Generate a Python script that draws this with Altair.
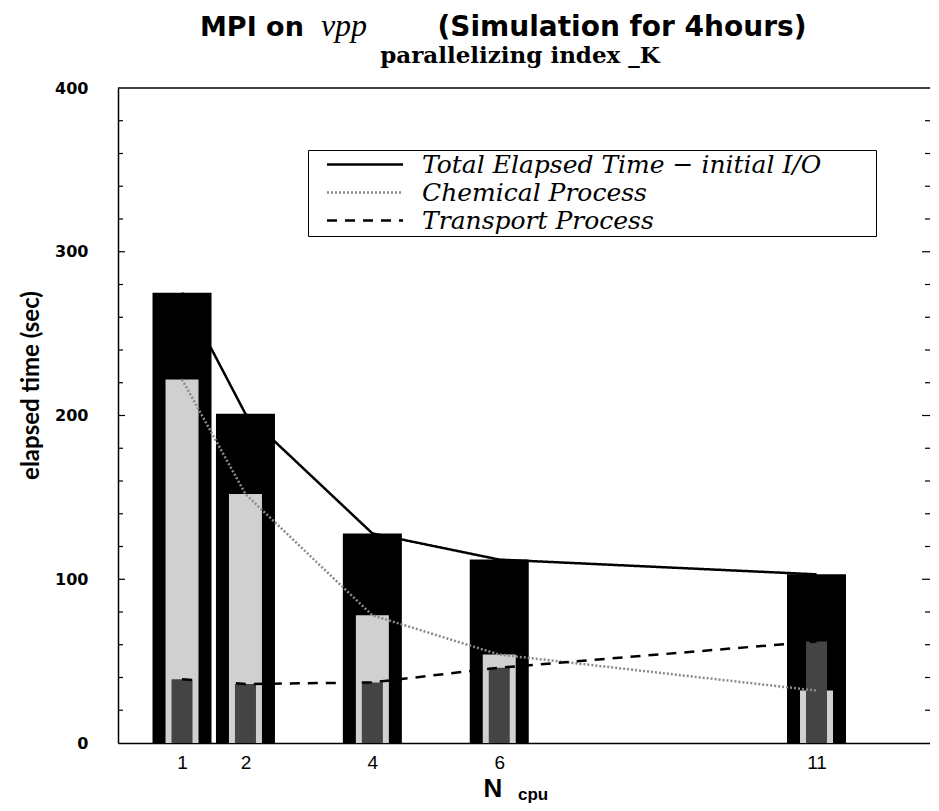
import altair as alt
import pandas as pd

# ---- data ----
ncpu = [1, 2, 4, 6, 11]
total = [275, 201, 128, 112, 103]
chemical = [222, 152, 78, 54, 32]
transport = [39, 36, 37, 46, 62]

series_names = ["Total Elapsed Time \u2212 initial I/O", "Chemical Process", "Transport Process"]
x_ticks = [1, 2, 4, 6, 11]
y_ticks = [0, 100, 200, 300, 400]
major_ticks = [100, 200, 300]
minor_ticks = [20, 40, 60, 80, 120, 140, 160, 180, 220, 240, 260, 280, 320, 340, 360, 380]

title_a = "MPI on"
title_b = "vpp"
title_c = "(Simulation for 4hours)"
subtitle = "parallelizing index _K"
xtitle_main = "N"
xtitle_sub = "cpu"
ytitle = "elapsed time (sec)"

# ---- tables ----
W, H = 812, 655
bars_df = pd.DataFrame({"ncpu": ncpu, "total": total, "chemical": chemical, "transport": transport})
rows = []
for name, vals in zip(series_names, [total, chemical, transport]):
    for n, v in zip(ncpu, vals):
        rows.append({"ncpu": n, "series": name, "value": v})
lines_df = pd.DataFrame(rows)
major_df = pd.DataFrame({"v": major_ticks})
minor_df = pd.DataFrame({"v": minor_ticks})
one_df = pd.DataFrame({"a": [0]})

xs = alt.Scale(domain=[0.07, 12.71], nice=False, zero=False)
ys = alt.Scale(domain=[0, 400], nice=False)

x_axis = alt.Axis(values=x_ticks, ticks=False, grid=False, domainColor="black", domainWidth=1.5,
                  labelFont="Liberation Sans", labelFontSize=19, labelColor="black",
                  labelPadding=10, labelFlush=False, title=None)
y_axis = alt.Axis(values=y_ticks, ticks=False, grid=False, domainColor="black", domainWidth=1.5,
                  labelFont="DejaVu Sans", labelFontWeight="bold", labelFontSize=16,
                  labelColor="black", labelPadding=30, labelFlush=False,
                  title=ytitle, titleFont="Lato",
                  titleFontSize=24, titleFontWeight="bold", titleColor="black",
                  titleX=-80, titleY=297, titleAngle=270, titleAlign="center",
                  titleBaseline="alphabetic")

X = alt.X("ncpu:Q", scale=xs, axis=x_axis)

bar_total = alt.Chart(bars_df).mark_bar(size=59, color="black", orient="vertical").encode(
    x=X, y=alt.Y("total:Q", scale=ys, axis=y_axis))
bar_chem = alt.Chart(bars_df).mark_bar(size=33, color="#d0d0d0", orient="vertical").encode(
    x=X, y=alt.Y("chemical:Q", scale=ys, axis=y_axis))
bar_trans = alt.Chart(bars_df).mark_bar(size=21, color="#444444", orient="vertical").encode(
    x=X, y=alt.Y("transport:Q", scale=ys, axis=y_axis))

# invisible legend title placed to the right only widens the legend box
leg = alt.Legend(title="MMM")
lines = alt.Chart(lines_df).mark_line(interpolate="linear", strokeWidth=2.5).encode(
    x=X,
    y=alt.Y("value:Q", scale=ys, axis=y_axis),
    color=alt.Color("series:N", scale=alt.Scale(domain=series_names, range=["black", "#8a8a8a", "black"]), legend=leg),
    strokeDash=alt.StrokeDash("series:N", scale=alt.Scale(domain=series_names, range=[[1, 0], [2, 2], [10, 8]]), legend=leg),
)

def tick_layer(df, x0, x1):
    return alt.Chart(df).mark_rule(color="black", strokeWidth=1.2).encode(
        y=alt.Y("v:Q", scale=ys, axis=y_axis), x=alt.value(x0), x2=alt.value(x1))

ticks = [tick_layer(major_df, 0, 7), tick_layer(minor_df, 0, 5),
         tick_layer(major_df, W - 8, W), tick_layer(minor_df, W - 5, W)]

top_border = alt.Chart(one_df).mark_rule(color="black", strokeWidth=1.5).encode(
    x=alt.value(0), x2=alt.value(W), y=alt.value(0))

def text_layer(txt, x, y, font, size, weight="normal", style="normal", align="left"):
    return alt.Chart(pd.DataFrame({"t": [txt]})).mark_text(
        font=font, fontSize=size, fontWeight=weight, fontStyle=style, align=align,
        baseline="alphabetic", color="black").encode(text="t:N", x=alt.value(x), y=alt.value(y))

texts = [
    text_layer(title_a, 82, -52, "DejaVu Sans", 27, weight="bold"),
    text_layer(title_b, 226, -52, "Liberation Serif", 32, style="italic", align="center"),
    text_layer(title_c, 504, -52, "DejaVu Sans", 28, weight="bold", align="center"),
    text_layer(subtitle, 402, -25, "DejaVu Serif", 23, weight="bold", align="center"),
    text_layer(xtitle_main, 375, 709, "Liberation Sans", 26, weight="bold", align="center"),
    text_layer(xtitle_sub, 400, 712, "Liberation Sans", 17, weight="bold"),
]

chart = alt.layer(bar_total, bar_chem, bar_trans, lines, *ticks, top_border, *texts).properties(
    width=W, height=H,
    padding={"left": 110, "top": 80, "right": 0, "bottom": 60},
    autosize=alt.AutoSizeParams(type="none"),
    background="white",
).configure_view(stroke=None).configure_legend(
    orient="none", legendX=190, legendY=62, padding=2,
    strokeColor="black", fillColor="white",
    symbolType="M-3.8,0H3.8", symbolSize=400, symbolStrokeWidth=2.5,
    symbolOffset=42.5, labelOffset=44.5, rowPadding=2,
    labelFont="DejaVu Serif", labelFontStyle="italic", labelFontSize=25,
    labelColor="black", labelLimit=0,
    titleOrient="right", titlePadding=1, titleOpacity=0, titleFont="DejaVu Sans",
    titleFontSize=20, titleFontWeight="normal",
)

chart.save("out.html", embed_options={"renderer": "svg", "actions": False})
